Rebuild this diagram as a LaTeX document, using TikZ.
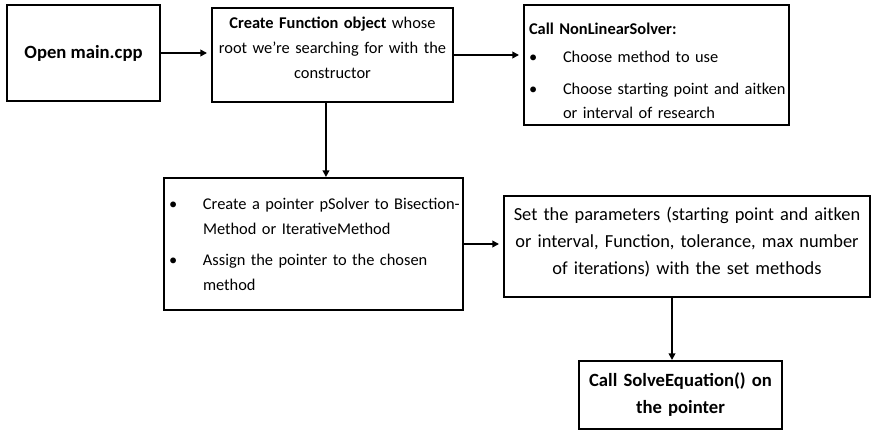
\documentclass[tikz,border=0pt]{standalone}
\usepackage{fontspec}
\setmainfont{Carlito}
\usetikzlibrary{arrows.meta}
\setlength{\parindent}{0pt}
\newdimen\flowdepth
\newcommand{\flowitem}[1]{\par\makebox[25.5pt][l]{\textbullet}%
  \parbox[t]{20em}{#1\par\global\flowdepth=\prevdepth}\par\prevdepth=\flowdepth}
\begin{document}
\begin{tikzpicture}[
  x=0.75pt, y=-0.75pt,
  flowbox/.style = {draw, line width=1.5pt, rectangle, inner ysep=0pt, inner xsep=1pt},
  flowbig/.style = {font=\fontsize{14}{20.25}\selectfont, align=center},
  flowtext/.style = {font=\fontsize{12.3}{18.75}\selectfont, align=center},
  flowlist/.style = {font=\fontsize{12.3}{18}\selectfont, align=left, inner xsep=3.75pt,
    execute at begin node={\setlength{\parskip}{6pt}}},
  flowarrow/.style = {line width=1.4pt, -{Triangle[length=5pt,width=5pt]}}
]
  \useasboundingbox (0,0) rectangle (881,442);
  % boxes
  \node[flowbox, line width=2.2pt, flowbig, minimum width=114.75pt, minimum height=72pt]
    (open) at (83.5,53) {\textbf{Open main.cpp}};
  \node[flowbox, flowtext, text width=178pt, minimum width=180.75pt, minimum height=70.5pt]
    (function) at (332.5,55)
    {\textbf{Create Function object} whose\\ root we’re searching for with the\\ constructor\rule[-11pt]{0pt}{11pt}};
  \node[flowbox, flowlist, text width=191.25pt, minimum height=90pt]
    (solver) at (656.5,65)
    {\rule{0pt}{18pt}\textbf{Call NonLinearSolver:}\par\vspace{-3pt}
     \flowitem{Choose method to use}
     \flowitem{Choose starting point and aitken\\ or interval of research}};
  \node[flowbox, flowlist, text width=216.75pt, minimum height=84pt]
    (pointer) at (313.5,244)
    {\flowitem{Create a pointer pSolver to Bisection-\\ Method or IterativeMethod}
     \flowitem{Assign the pointer to the chosen\\ method\rule[-15pt]{0pt}{15pt}}};
  \node[flowbox, flowbig, font=\fontsize{13.8}{20.25}\selectfont, text width=272pt,
    minimum width=274.5pt, minimum height=75.75pt]
    (params) at (687,246.5)
    {Set the parameters (starting point and aitken\\ or interval, Function, tolerance, max number\\ of iterations) with the set methods\rule[-9pt]{0pt}{9pt}};
  \node[flowbox, flowbig, text width=150pt, minimum width=152.25pt, minimum height=51pt]
    (solve) at (680.5,395)
    {\textbf{Call SolveEquation() on}\\ \textbf{the pointer}};
  % connectors
  \draw[flowarrow, shorten >=3pt] (open.east) -- (open.east -| function.west);
  \draw[flowarrow, shorten >=3pt] (function.east) -- (function.east -| solver.west);
  \draw[flowarrow] ([xshift=-4.9pt]function.south) -- ([xshift=-4.9pt]function.south |- pointer.north);
  \draw[flowarrow, shorten >=3pt] (pointer.east) -- (pointer.east -| params.west);
  \draw[flowarrow] ([xshift=-11.25pt]params.south) -- ([xshift=-11.25pt]params.south |- solve.north);
\end{tikzpicture}
\end{document}
